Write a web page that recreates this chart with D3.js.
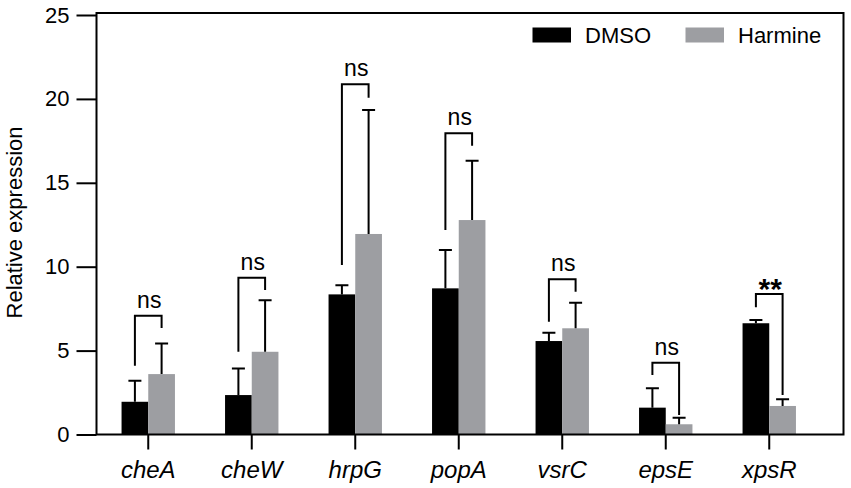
<!DOCTYPE html>
<html>
<head>
<meta charset="utf-8">
<script src="https://cdn.jsdelivr.net/npm/d3@7"></script>
<style>
  html, body { margin: 0; padding: 0; background: #fff; }
  svg { display: block; font-family: "Liberation Sans", Arial, sans-serif; }
</style>
</head>
<body>
<svg id="chart" width="851" height="488"></svg>
<script>
const categories = ["cheA", "cheW", "hrpG", "popA", "vsrC", "epsE", "xpsR"];
const seriesNames = ["DMSO", "Harmine"];
const dmso = [1.95, 2.35, 8.35, 8.71, 5.57, 1.6, 6.63];
const dmsoErr = [1.25, 1.59, 0.55, 2.29, 0.5, 1.15, 0.19];
const harmine = [3.6, 4.93, 11.95, 12.78, 6.33, 0.61, 1.7];
const harmineErr = [1.83, 3.07, 7.39, 3.54, 1.52, 0.39, 0.4];
const sigLabel = ["ns", "ns", "ns", "ns", "ns", "ns", "**"];
const sigTop = [7.08, 9.34, 20.87, 17.95, 9.25, 4.28, 8.37];
const sigLeft = [4.10, 4.93, 10.10, 12.19, 6.72, 3.55, 7.58];
const sigRight = [6.35, 8.61, 20.07, 17.21, 8.51, 1.16, 2.35];
const yTicks = [0, 5, 10, 15, 20, 25];

const colors = {DMSO: "#000000", Harmine: "#9d9ea2"};
const svg = d3.select("#chart");

const y = d3.scaleLinear().domain([0, 25]).range([434.5, 15]);
const p = 1 - 53.4 / ((821 - 96.5) / categories.length);
const x = d3.scaleBand().domain(categories).range([96.5, 821]).paddingInner(p).paddingOuter(p / 2);
const xs = d3.scaleBand().domain(seriesNames).range([0, x.bandwidth()]);

const data = categories.map((c, i) => ({
  cat: c,
  vals: [
    {s: "DMSO", v: dmso[i], e: dmsoErr[i]},
    {s: "Harmine", v: harmine[i], e: harmineErr[i]}
  ],
  sig: sigLabel[i], top: sigTop[i], left: sigLeft[i], right: sigRight[i]
}));

// bars
const g = svg.append("g").selectAll("g").data(data).join("g")
  .attr("transform", d => `translate(${x(d.cat)},0)`);
g.selectAll("rect").data(d => d.vals).join("rect")
  .attr("x", d => xs(d.s))
  .attr("width", xs.bandwidth())
  .attr("y", d => y(d.v))
  .attr("height", d => y(0) - y(d.v))
  .attr("fill", d => colors[d.s]);

// error bars (upper)
g.selectAll("path.err").data(d => d.vals).join("path")
  .attr("class", "err")
  .attr("d", d => {
    const cx = xs(d.s) + xs.bandwidth() / 2;
    const y0 = y(d.v), y1 = y(d.v + d.e);
    return `M${cx},${y0}V${y1}M${cx - 6.5},${y1}H${cx + 6.5}`;
  })
  .attr("stroke", "#000").attr("stroke-width", 2).attr("fill", "none");

// significance brackets
g.append("path")
  .attr("d", d => {
    const lx = xs("DMSO") + xs.bandwidth() / 2;
    const rx = xs("Harmine") + xs.bandwidth() / 2;
    return `M${lx},${y(d.left)}V${y(d.top)}H${rx}V${y(d.right)}`;
  })
  .attr("stroke", "#000").attr("stroke-width", 2).attr("fill", "none");
g.append("text")
  .attr("x", x.bandwidth() / 2 + 1)
  .attr("y", d => d.sig === "**" ? y(d.top) + 5 : y(d.top) - 8)
  .attr("text-anchor", "middle")
  .attr("font-size", d => d.sig === "**" ? 30 : 23)
  .attr("font-weight", d => d.sig === "**" ? "bold" : "normal")
  .text(d => d.sig);

// y axis
const yAxis = svg.append("g").attr("transform", "translate(96.5,0)")
  .call(d3.axisLeft(y).tickValues(yTicks).tickSize(20).tickPadding(7).tickSizeOuter(0));
yAxis.select(".domain").remove();
yAxis.selectAll("line").attr("stroke", "#000").attr("stroke-width", 2);
yAxis.selectAll("text").attr("font-size", 22).attr("fill", "#000")
  .attr("font-family", "Liberation Sans, Arial, sans-serif");

// x axis
const xAxis = svg.append("g").attr("transform", `translate(0,${y(0)})`)
  .call(d3.axisBottom(x).tickSize(15).tickPadding(11).tickSizeOuter(0));
xAxis.select(".domain").remove();
xAxis.selectAll("line").attr("stroke", "#000").attr("stroke-width", 2);
xAxis.selectAll("text").attr("font-size", 24).attr("font-style", "italic").attr("fill", "#000")
  .attr("font-family", "Liberation Sans, Arial, sans-serif");

// frame
svg.append("path")
  .attr("d", `M96.5,${y(25) - 2}V${y(0)}H843.5V${y(25) - 2}Z`)
  .attr("stroke", "#000").attr("stroke-width", 2).attr("fill", "none");

// y label
svg.append("text")
  .attr("transform", "translate(22,222.5) rotate(-90)")
  .attr("text-anchor", "middle")
  .attr("font-size", 22)
  .text("Relative expression");

// legend
const legendX = [532.5, 685.5];
const legend = svg.append("g").selectAll("g").data(seriesNames).join("g")
  .attr("transform", (d, i) => `translate(${legendX[i]},0)`);
legend.append("rect").attr("x", 0).attr("y", 27.5).attr("width", 38.5).attr("height", 15)
  .attr("fill", d => colors[d]);
legend.append("text").attr("x", 52.5).attr("y", 42.5).attr("font-size", 22).text(d => d);
</script>
</body>
</html>
